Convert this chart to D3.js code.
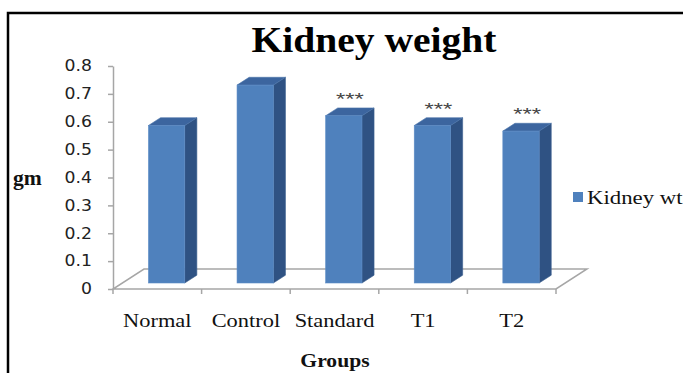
<!DOCTYPE html>
<html>
<head>
<meta charset="utf-8">
<script src="https://cdn.jsdelivr.net/npm/d3@7/dist/d3.min.js"></script>
<style>
  html, body { margin: 0; padding: 0; background: #fff; }
  svg { display: block; }
</style>
</head>
<body>
<svg id="chart" width="683" height="373"></svg>
<script>
// Kidney weight per group (gm)
const categories = ["Normal", "Control", "Standard", "T1", "T2"];
const kidneyWt = [0.565, 0.71, 0.60, 0.565, 0.545];
const significance = ["", "", "***", "***", "***"];
const yTicks = [0, 0.1, 0.2, 0.3, 0.4, 0.5, 0.6, 0.7, 0.8];
const seriesName = "Kidney wt";

const svg = d3.select("#chart");
const W = 683, H = 373;

const colors = { front: "#4F81BD", side: "#2F5283", top: "#3C659F", grid: "#A6A6A6" };

// Oblique projection of the floor depth
const depth = { dx: 31, dy: -20 };
const barFront = 0.3, barBack = 0.69;     // depth fractions occupied by each column
const shift = f => [f * depth.dx, f * depth.dy];

const x = d3.scaleBand().domain(categories).range([113, 556]);
const y = d3.scaleLinear().domain([0, 0.8]).range([289, 66]);

// stretch text horizontally to the wide serif look
function widen(sel, k) {
  sel.each(function () {
    const len = this.getComputedTextLength();
    d3.select(this).attr("textLength", len * k).attr("lengthAdjust", "spacingAndGlyphs");
  });
}

svg.append("rect").attr("width", W).attr("height", H).attr("fill", "#fff");

// outer frame
svg.append("rect")
  .attr("x", 8).attr("y", 13).attr("width", 700).attr("height", 400)
  .attr("fill", "none").attr("stroke", "#000").attr("stroke-width", 2.5);

// title
svg.append("text")
  .attr("x", 374).attr("y", 52)
  .attr("text-anchor", "middle")
  .attr("font-family", "'Liberation Serif', 'Times New Roman', serif")
  .attr("font-weight", "bold").attr("font-size", 35)
  .attr("fill", "#000")
  .text("Kidney weight")
  .call(widen, 1.13);

// floor
const [x0, x1] = x.range();
const y0 = y(0);
const [fdx, fdy] = shift(1);
svg.append("path")
  .attr("d", `M${x0},${y0} L${x1},${y0} L${x1 + fdx},${y0 + fdy} L${x0 + fdx},${y0 + fdy} Z`)
  .attr("fill", "none").attr("stroke", colors.grid).attr("stroke-width", 1.5);

// category tick marks on the front edge
const bounds = d3.range(categories.length + 1).map(i => x0 + i * x.step());
svg.append("g").selectAll("line").data(bounds).join("line")
  .attr("x1", d => d).attr("x2", d => d)
  .attr("y1", y0).attr("y2", y0 + 5)
  .attr("stroke", colors.grid).attr("stroke-width", 1.5);

// value axis
const yAxis = d3.axisLeft(y)
  .tickValues(yTicks)
  .tickSize(5)
  .tickSizeOuter(0)
  .tickPadding(16)
  .tickFormat(d => d === 0 ? "0" : d3.format(".1f")(d));

const gy = svg.append("g").attr("transform", `translate(${x0},0)`).call(yAxis);
gy.select(".domain").attr("stroke", colors.grid).attr("stroke-width", 1.5);
gy.selectAll(".tick line").attr("stroke", colors.grid).attr("stroke-width", 1.5);
gy.selectAll(".tick text")
  .attr("font-family", "'DejaVu Sans', Verdana, sans-serif")
  .attr("font-size", 15)
  .attr("fill", "#222")
  .call(widen, 1.15);

// columns
const data = categories.map((c, i) => ({ c, v: kidneyWt[i], sig: significance[i] }));
const barW = x.bandwidth() * 0.41;
const [fx, fy] = shift(barFront);
const [bx, by] = shift(barBack);
const sdx = bx - fx, sdy = by - fy;

const bars = svg.append("g").selectAll("g").data(data).join("g");

bars.each(function (d) {
  const g = d3.select(this);
  const left = x(d.c) + (x.bandwidth() - barW) / 2 + fx;
  const right = left + barW;
  const top = y(d.v) + fy;
  const bottom = y(0) + fy;

  // side face
  g.append("path")
    .attr("d", `M${right},${top} L${right + sdx},${top + sdy} L${right + sdx},${bottom + sdy} L${right},${bottom} Z`)
    .attr("fill", colors.side).attr("stroke", "#3a5f8f").attr("stroke-width", 0.6);
  // top face
  g.append("path")
    .attr("d", `M${left},${top} L${left + sdx},${top + sdy} L${right + sdx},${top + sdy} L${right},${top} Z`)
    .attr("fill", colors.top).attr("stroke", "#4a74aa").attr("stroke-width", 0.6);
  // front face
  g.append("rect")
    .attr("x", left).attr("y", top)
    .attr("width", barW).attr("height", bottom - top)
    .attr("fill", colors.front).attr("stroke", "#5d8cc6").attr("stroke-width", 0.6);

  if (d.sig) {
    g.append("text")
      .attr("x", left + barW / 2 + sdx / 2)
      .attr("y", top + sdy - 3)
      .attr("text-anchor", "middle")
      .attr("font-family", "'Liberation Sans', Arial, sans-serif")
      .attr("font-size", 17)
      .attr("fill", "#444")
      .text(d.sig)
      .call(widen, 1.4);
  }
});

// category labels
svg.append("g").selectAll("text").data(categories).join("text")
  .attr("x", d => x(d) + x.bandwidth() / 2)
  .attr("y", 327)
  .attr("text-anchor", "middle")
  .attr("font-family", "'Liberation Serif', 'Times New Roman', serif")
  .attr("font-size", 19)
  .attr("fill", "#111")
  .text(d => d)
  .call(widen, 1.18);

// axis titles
svg.append("text")
  .attr("x", 335).attr("y", 367)
  .attr("text-anchor", "middle")
  .attr("font-family", "'Liberation Serif', 'Times New Roman', serif")
  .attr("font-weight", "bold").attr("font-size", 18)
  .attr("fill", "#111")
  .text("Groups")
  .call(widen, 1.2);

svg.append("text")
  .attr("x", 13).attr("y", 185)
  .attr("font-family", "'Liberation Serif', 'Times New Roman', serif")
  .attr("font-weight", "bold").attr("font-size", 20)
  .attr("fill", "#111")
  .text("gm")
  .call(widen, 1.08);

// legend
const legend = svg.append("g").attr("transform", "translate(573,192)");
legend.append("rect").attr("width", 10).attr("height", 10).attr("fill", colors.front);
legend.append("text")
  .attr("x", 14).attr("y", 12)
  .attr("font-family", "'Liberation Serif', 'Times New Roman', serif")
  .attr("font-size", 19)
  .attr("fill", "#111")
  .text(seriesName)
  .call(widen, 1.2);
</script>
</body>
</html>
